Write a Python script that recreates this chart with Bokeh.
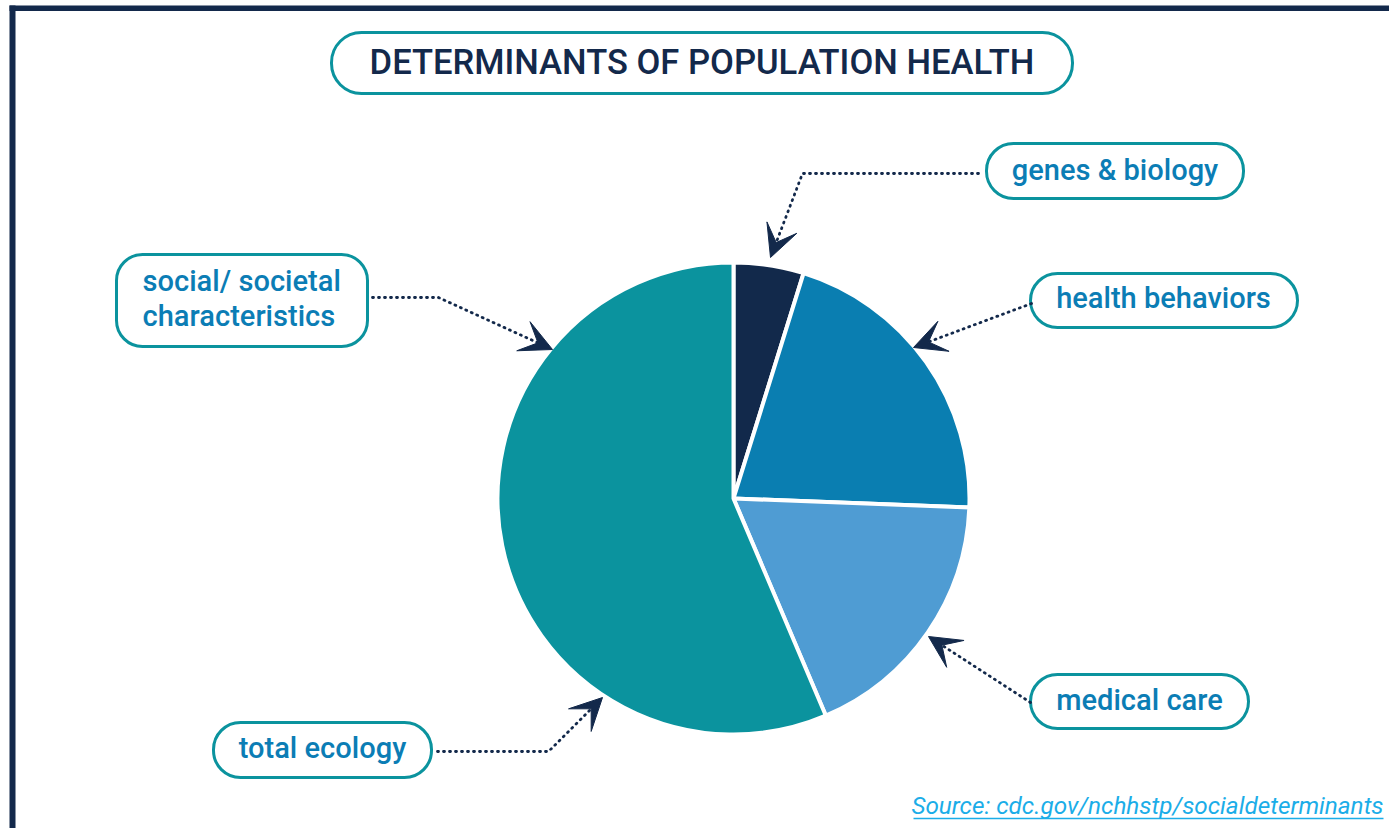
from bokeh.plotting import figure
from bokeh.models import ColumnDataSource, Range1d, BoxAnnotation, Arrow, VeeHead
from bokeh.core.properties import value
from bokeh.embed import file_html
from bokeh.resources import INLINE
import numpy as np

# ---- data ----
categories = ["genes & biology", "health behaviors", "medical care", "social/ societal characteristics"]
shares = [4.8, 20.8, 18.0, 56.4]
slice_colors = ["#12294B", "#0A7EB1", "#4F9CD3", "#0B939E"]
title_text = "DETERMINANTS OF POPULATION HEALTH"
callout_labels = ["genes & biology", "health behaviors", "medical care", "social/ societal\ncharacteristics", "total ecology"]
source_text = "Source: cdc.gov/nchhstp/socialdeterminants"

W, H = 1389, 828
NAVY = "#13294B"
TEAL = "#0B939E"
LBL = "#0B7DB5"

def X(px):
    return px

def Y(py):
    return H - py

p = figure(width=W, height=H, x_range=Range1d(0, W), y_range=Range1d(0, H),
           x_axis_type=None, y_axis_type=None, toolbar_location=None,
           output_backend="svg", min_border=0)
p.grid.visible = False
p.outline_line_color = None
p.background_fill_color = "white"
p.border_fill_color = "white"

# frame
p.quad(left=[X(9)], right=[X(15)], bottom=[0], top=[Y(5)], color=NAVY, line_color=None)
p.quad(left=[X(9)], right=[W], bottom=[Y(10.5)], top=[Y(5)], color=NAVY, line_color=None)

# pie
vals = np.array(shares, dtype=float)
frac = vals / vals.sum()
cum_end = np.cumsum(frac)
cum_start = cum_end - frac
start = np.pi / 2 - 2 * np.pi * cum_end
end = np.pi / 2 - 2 * np.pi * cum_start
src = ColumnDataSource(dict(cat=categories, start=start, end=end, color=slice_colors,
                            x=[X(733)] * len(vals), y=[Y(498)] * len(vals)))
p.wedge(x="x", y="y", radius=236, start_angle="start", end_angle="end",
        fill_color="color", line_color="white", line_width=4, source=src)

# boxes
def box(l, r, t, b, rad):
    p.add_layout(BoxAnnotation(left=X(l), right=X(r), top=Y(t), bottom=Y(b),
                               fill_color=None, fill_alpha=0, line_color=TEAL, line_alpha=1.0,
                               line_width=3, border_radius=rad, level="underlay"))

box(331, 1072, 32, 93, 30)
box(986, 1243, 143, 198, 27)
box(1030, 1297, 273, 327, 27)
box(1030, 1248, 674, 728, 27)
box(116, 367, 254, 346, 26)
box(213, 431, 722, 777, 27)

LF = value("Roboto Medium")

p.text(x=[X(701.5)], y=[Y(61)], text=[title_text], text_font=LF, text_font_size="34.6px",
       text_color=NAVY, text_align="center", text_baseline="alphabetic")

lab_x = [X(1114.5), X(1163), X(1139), X(322)]
lab_y = [Y(169.5), Y(297), Y(699), Y(747)]
lab_t = [callout_labels[0], callout_labels[1], callout_labels[2], callout_labels[4]]
p.text(x=lab_x, y=lab_y, text=lab_t, text_font=LF, text_font_size="29px",
       text_color=LBL, text_align="center", text_baseline="alphabetic")

soc_lines = callout_labels[3].split("\n")
p.text(x=[X(142), X(142)], y=[Y(280.5), Y(315.5)], text=soc_lines, text_font=LF,
       text_font_size="29px", text_color=LBL, text_align="left", text_baseline="alphabetic")

# source
p.text(x=[X(1383)], y=[Y(805)], text=[source_text], text_font=value("Roboto"),
       text_font_style="italic", text_font_size="24.3px", text_color="#1BADE8",
       text_align="right", text_baseline="alphabetic")
p.line(x=[X(913), X(1383)], y=[Y(818), Y(818)], line_color="#1BADE8", line_width=1.3)

# connectors
paths = [
    [(978, 173), (802, 173), (770, 257)],
    [(1031, 303), (913, 347)],
    [(1030, 702), (928, 636)],
    [(372, 297), (438, 297), (552, 349)],
    [(437, 751), (548, 751), (602, 697)],
]
for path in paths:
    xs = [X(a) for a, b in path]
    ys = [Y(b) for a, b in path]
    dx, dy = xs[-1] - xs[-2], ys[-1] - ys[-2]
    L = (dx ** 2 + dy ** 2) ** 0.5
    xl = xs[:-1] + [xs[-1] - dx / L * 14]
    yl = ys[:-1] + [ys[-1] - dy / L * 14]
    p.line(xl, yl, line_color=NAVY, line_width=2.8, line_dash="1 5", line_cap="round")
    p.add_layout(Arrow(end=VeeHead(size=32, fill_color=NAVY, line_color=NAVY, line_width=1),
                       x_start=xs[-2], y_start=ys[-2], x_end=xs[-1], y_end=ys[-1],
                       line_color=None))

open("out.html", "w").write(file_html(p, INLINE))
